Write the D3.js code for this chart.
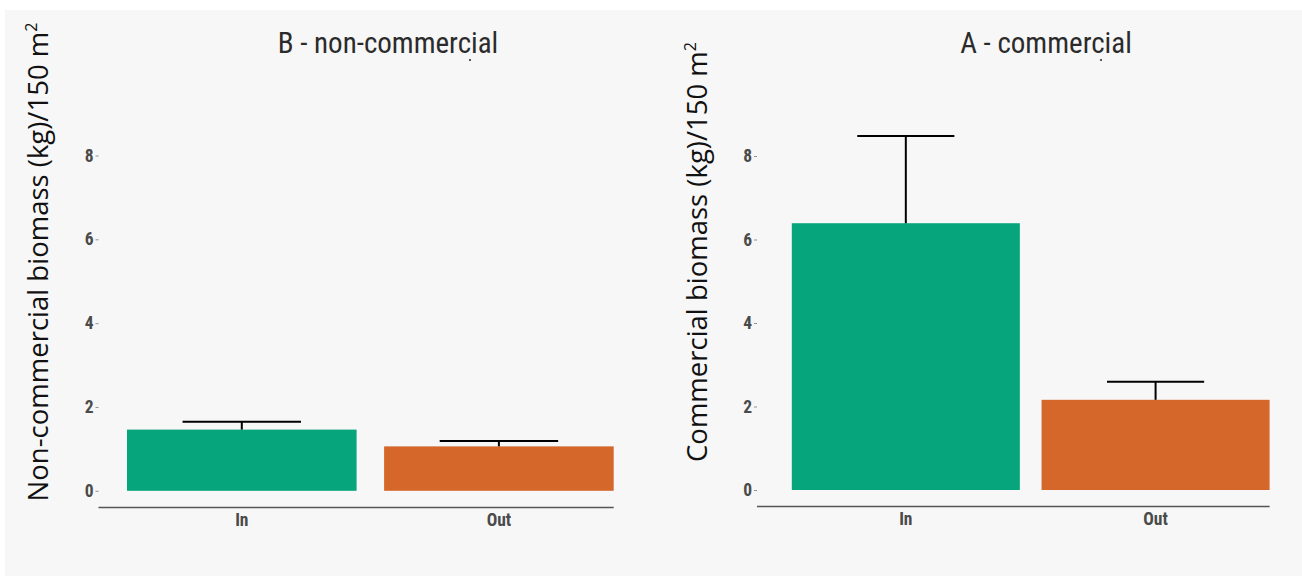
<!DOCTYPE html>
<html>
<head>
<meta charset="utf-8">
<script src="https://cdn.jsdelivr.net/npm/d3@7"></script>
<style>
  html, body { margin: 0; padding: 0; background: #ffffff; }
  svg { display: block; }
</style>
</head>
<body>
<svg id="chart" width="1302" height="577"></svg>
<script>
// ---- data ----
const categories = ["In", "Out"];
const nonCommercialMeans = [1.46, 1.06];
const nonCommercialUpper = [1.65, 1.19];
const commercialMeans = [6.39, 2.16];
const commercialUpper = [8.48, 2.59];
const yTicks = [0, 2, 4, 6, 8];
const panelTitles = ["B - non-commercial", "A - commercial"];
const yLabels = ["Non-commercial biomass (kg)/150 m", "Commercial biomass (kg)/150 m"];
const barColors = ["#06a57c", "#d5672a"];

// ---- layout ----
const panels = [
  { means: nonCommercialMeans, upper: nonCommercialUpper, title: panelTitles[0], ylab: yLabels[0],
    axisX: 98.5, x0: 127, x1: 613.7, padInner: 0.107, capFrac: 0.516,
    titleX: 388, ylabX: 48, ylabY: 262, y0: 490.8, y8: 155.5, axisLineY: 507.5, dotX: 470 },
  { means: commercialMeans, upper: commercialUpper, title: panelTitles[1], ylab: yLabels[1],
    axisX: 757, x0: 791.8, x1: 1269.6, padInner: 0.087, capFrac: 0.426,
    titleX: 1046, ylabX: 707, ylabY: 252, y0: 490, y8: 156, axisLineY: 506.5, dotX: 1101 }
];

const svg = d3.select("#chart");
svg.append("rect").attr("x", 5).attr("y", 10).attr("width", 1297).attr("height", 566).attr("fill", "#f7f7f7");

const narrow = "'Liberation Sans Narrow', 'Arial Narrow', 'Roboto Condensed', 'DejaVu Sans Condensed', sans-serif";

panels.forEach(p => {
  const g = svg.append("g");
  const x = d3.scaleBand().domain(categories).range([p.x0, p.x1]).paddingInner(p.padInner).paddingOuter(0);
  const y = d3.scaleLinear().domain([0, 8]).range([p.y0, p.y8]);

  // y axis
  const ya = g.append("g").attr("transform", `translate(${p.axisX},0)`)
    .call(d3.axisLeft(y).tickValues(yTicks).tickSize(3).tickPadding(2).tickFormat(d3.format("d")));
  ya.select(".domain").remove();
  ya.selectAll(".tick line").attr("stroke", "#777").attr("stroke-width", 0.8);
  ya.selectAll(".tick text").attr("font-family", narrow).attr("font-weight", "bold")
    .attr("font-size", 17.5).attr("fill", "#4a4a4a");

  // x axis line
  g.append("line").attr("x1", p.axisX).attr("x2", p.x1)
    .attr("y1", p.axisLineY).attr("y2", p.axisLineY).attr("stroke", "#555").attr("stroke-width", 1.3);

  // x labels
  g.selectAll(".xlab").data(categories).enter().append("text")
    .attr("x", d => x(d) + x.bandwidth() / 2).attr("y", p.axisLineY + 18.5)
    .attr("text-anchor", "middle").attr("font-family", narrow).attr("font-weight", "bold")
    .attr("font-size", 17.5).attr("fill", "#4a4a4a").text(d => d);

  // bars
  g.selectAll(".bar").data(categories).enter().append("rect")
    .attr("x", d => x(d)).attr("width", x.bandwidth())
    .attr("y", (d, i) => y(p.means[i])).attr("height", (d, i) => y(0) - y(p.means[i]))
    .attr("fill", (d, i) => barColors[i]);

  // error bars (upper)
  const cap = x.bandwidth() * p.capFrac;
  g.selectAll(".stem").data(categories).enter().append("line")
    .attr("x1", d => x(d) + x.bandwidth() / 2).attr("x2", d => x(d) + x.bandwidth() / 2)
    .attr("y1", (d, i) => y(p.means[i])).attr("y2", (d, i) => y(p.upper[i]))
    .attr("stroke", "#000").attr("stroke-width", 2);
  g.selectAll(".cap").data(categories).enter().append("line")
    .attr("x1", d => x(d) + x.bandwidth() / 2 - cap / 2).attr("x2", d => x(d) + x.bandwidth() / 2 + cap / 2)
    .attr("y1", (d, i) => y(p.upper[i])).attr("y2", (d, i) => y(p.upper[i]))
    .attr("stroke", "#000").attr("stroke-width", 2);

  // title
  g.append("text").attr("x", p.titleX).attr("y", 53).attr("text-anchor", "middle")
    .attr("font-family", narrow).attr("font-size", 29).attr("fill", "#2b2b2b").text(p.title);
  g.append("circle").attr("cx", p.dotX).attr("cy", 60).attr("r", 1.1).attr("fill", "#333");

  // y label
  const yl = g.append("text").attr("transform", `translate(${p.ylabX},${p.ylabY}) rotate(-90)`)
    .attr("text-anchor", "middle").attr("font-family", "'Open Sans', sans-serif")
    .attr("font-size", 27.5).attr("fill", "#111");
  yl.append("tspan").text(p.ylab);
  yl.append("tspan").attr("baseline-shift", "super").attr("font-size", 16).text("2");
});
</script>
</body>
</html>
